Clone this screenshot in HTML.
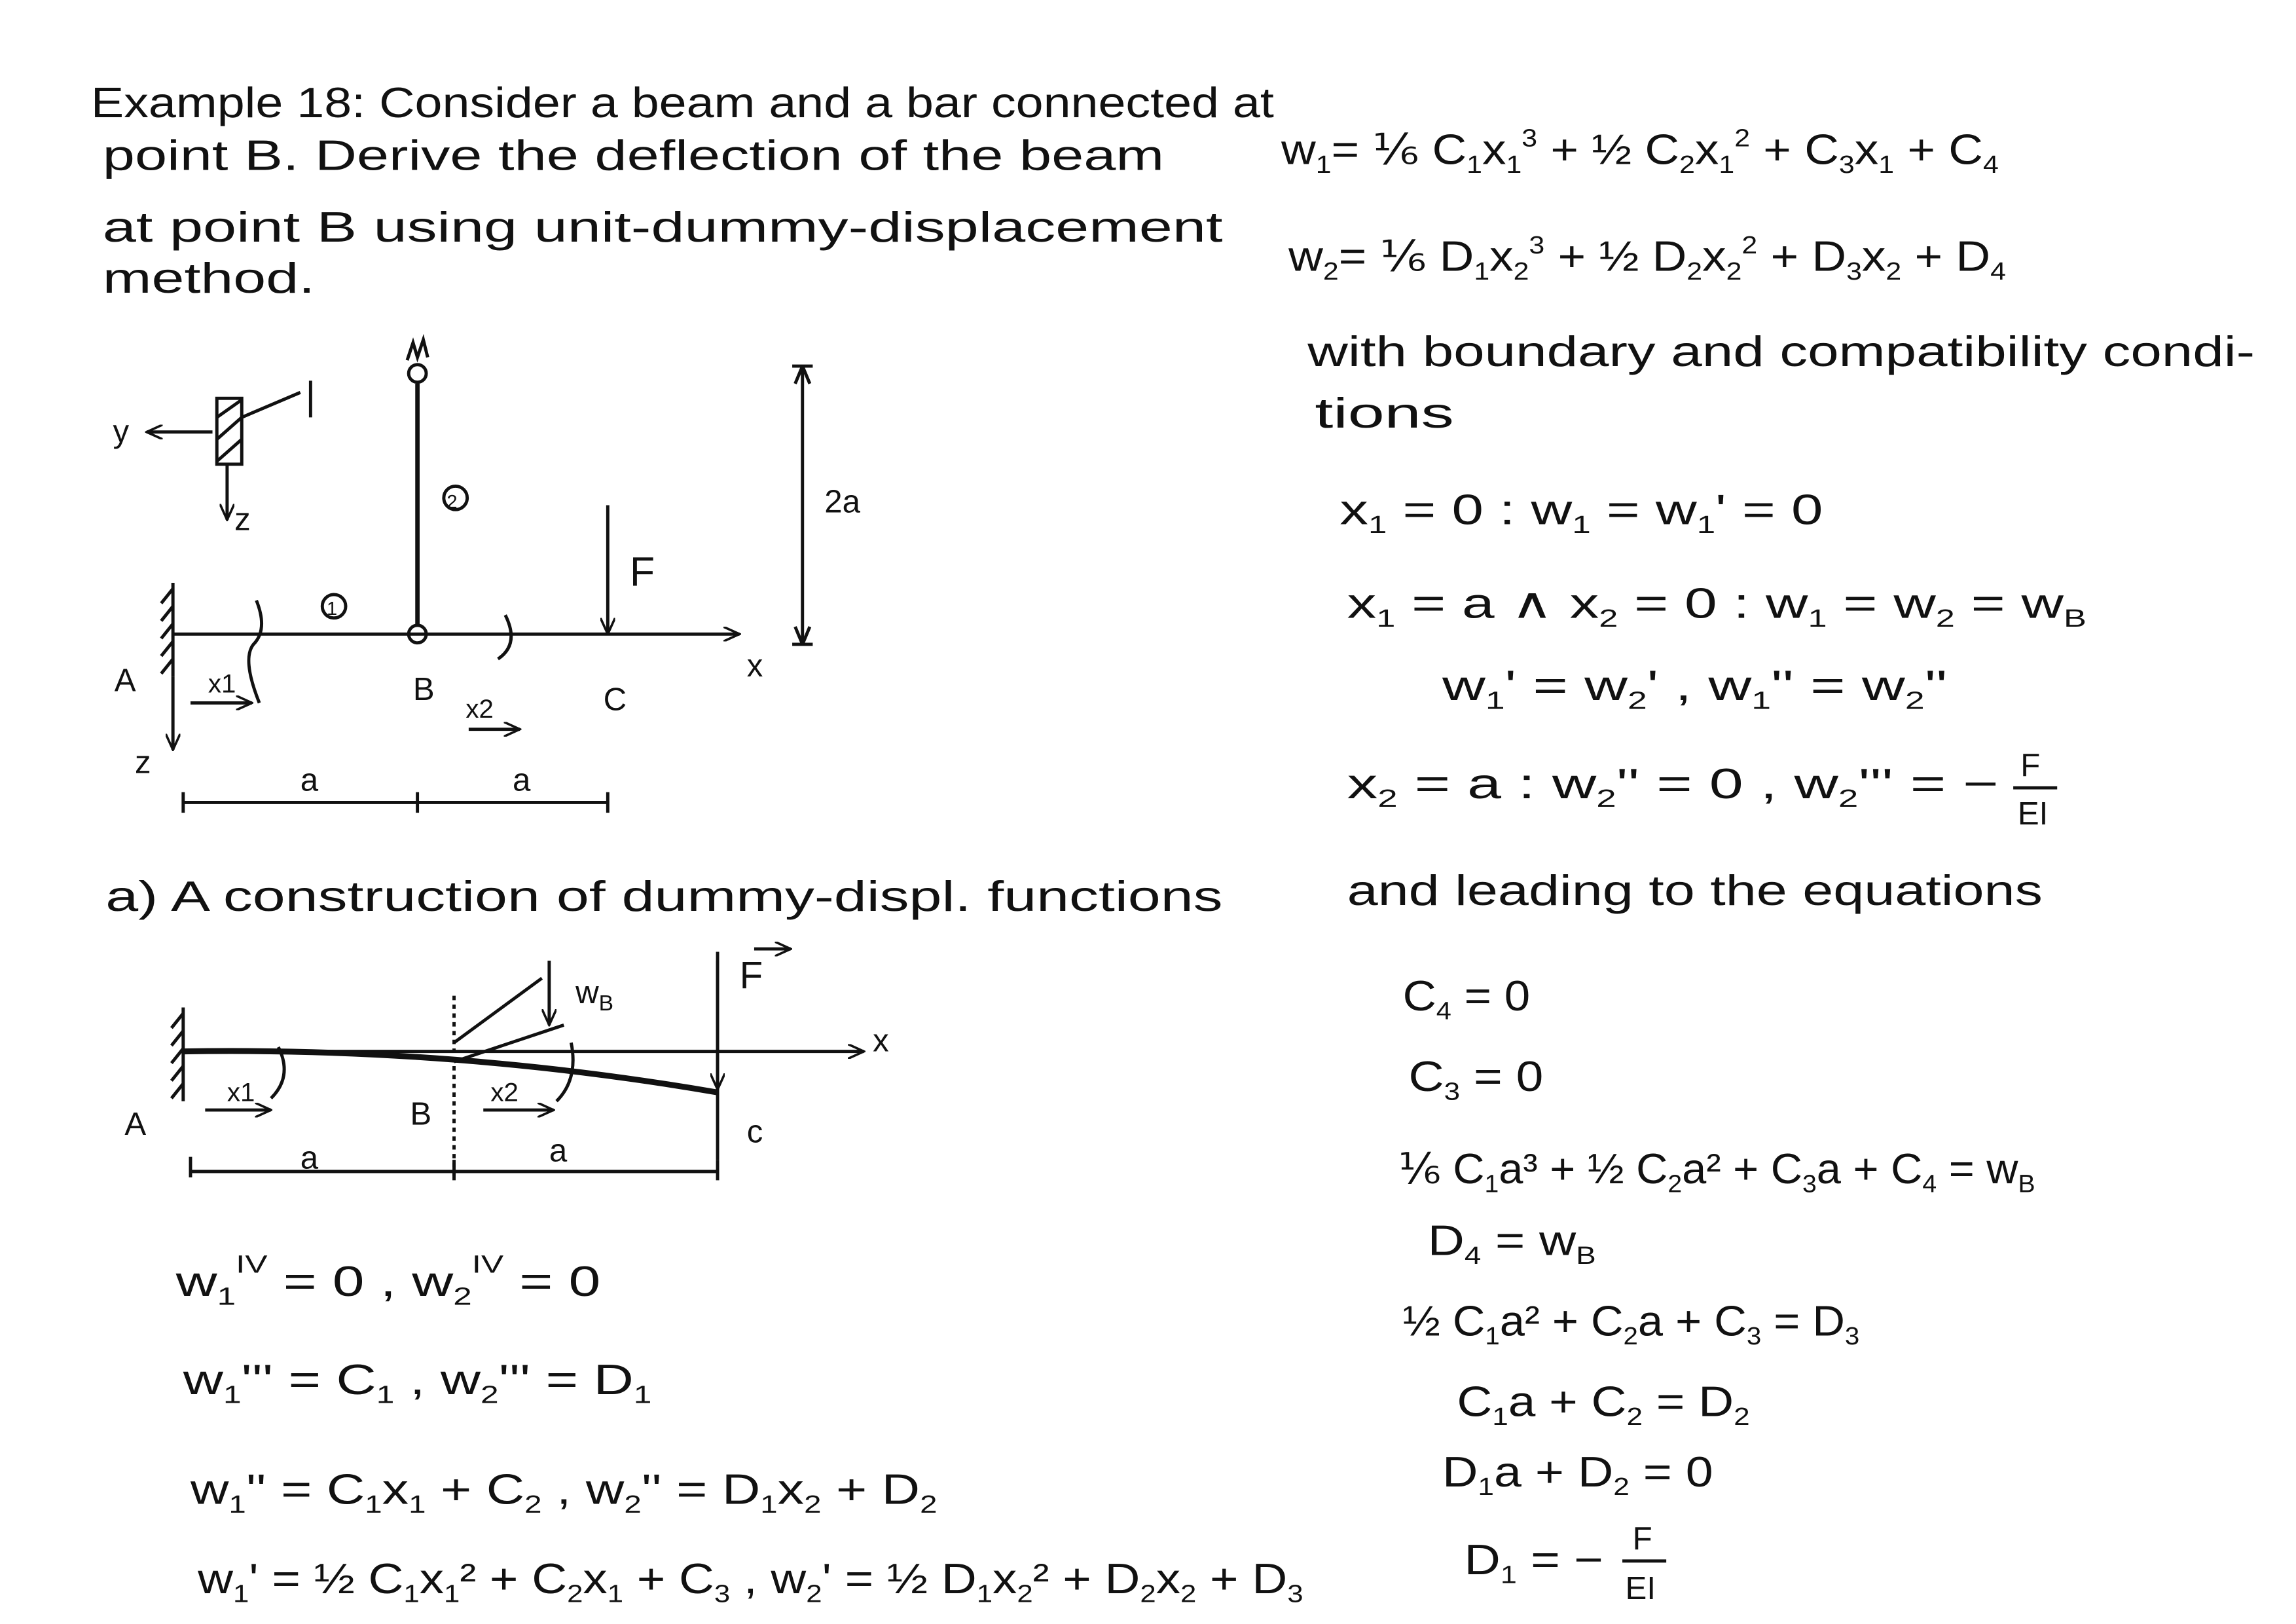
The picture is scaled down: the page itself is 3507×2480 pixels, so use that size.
<!DOCTYPE html>
<html><head><meta charset="utf-8">
<style>
html,body{margin:0;padding:0;background:#fff;}
svg{display:block;}
text{font-family:"Liberation Sans","DejaVu Sans",sans-serif;fill:#111;}
.s{stroke:#111;stroke-width:2.2;fill:none;}
</style></head><body>
<svg width="3507" height="2480" viewBox="0 0 1568 1109" xmlns="http://www.w3.org/2000/svg">
<defs>
<marker id="ar" markerWidth="12" markerHeight="10" refX="11" refY="5" orient="auto" markerUnits="userSpaceOnUse">
<path d="M0,0 L11,5 L0,10" fill="none" stroke="#111" stroke-width="1.6"/></marker>
</defs>
<g font-size="29">
<text x="62" y="80" textLength="808" lengthAdjust="spacingAndGlyphs">Example 18: Consider a beam and a bar connected at</text>
<text x="70" y="116" textLength="725" lengthAdjust="spacingAndGlyphs">point B. Derive the deflection of the beam</text>
<text x="70" y="165" textLength="765" lengthAdjust="spacingAndGlyphs">at point B using unit-dummy-displacement</text>
<text x="70" y="200" textLength="145" lengthAdjust="spacingAndGlyphs">method.</text>

<text x="875" y="112" textLength="490" lengthAdjust="spacingAndGlyphs">w<tspan font-size="17" dy="6">1</tspan><tspan dy="-6">= ⅙ C</tspan><tspan font-size="17" dy="6">1</tspan><tspan dy="-6">x</tspan><tspan font-size="17" dy="6">1</tspan><tspan font-size="17" dy="-18">3</tspan><tspan dy="12"> + ½ C</tspan><tspan font-size="17" dy="6">2</tspan><tspan dy="-6">x</tspan><tspan font-size="17" dy="6">1</tspan><tspan font-size="17" dy="-18">2</tspan><tspan dy="12"> + C</tspan><tspan font-size="17" dy="6">3</tspan><tspan dy="-6">x</tspan><tspan font-size="17" dy="6">1</tspan><tspan dy="-6"> + C</tspan><tspan font-size="17" dy="6">4</tspan></text>
<text x="880" y="185" textLength="490" lengthAdjust="spacingAndGlyphs">w<tspan font-size="17" dy="6">2</tspan><tspan dy="-6">= ⅙ D</tspan><tspan font-size="17" dy="6">1</tspan><tspan dy="-6">x</tspan><tspan font-size="17" dy="6">2</tspan><tspan font-size="17" dy="-18">3</tspan><tspan dy="12"> + ½ D</tspan><tspan font-size="17" dy="6">2</tspan><tspan dy="-6">x</tspan><tspan font-size="17" dy="6">2</tspan><tspan font-size="17" dy="-18">2</tspan><tspan dy="12"> + D</tspan><tspan font-size="17" dy="6">3</tspan><tspan dy="-6">x</tspan><tspan font-size="17" dy="6">2</tspan><tspan dy="-6"> + D</tspan><tspan font-size="17" dy="6">4</tspan></text>
<text x="893" y="250" textLength="647" lengthAdjust="spacingAndGlyphs">with boundary and compatibility condi-</text>
<text x="898" y="292" textLength="95" lengthAdjust="spacingAndGlyphs">tions</text>
<text x="915" y="358" textLength="330" lengthAdjust="spacingAndGlyphs">x<tspan font-size="17" dy="6">1</tspan><tspan dy="-6"> = 0 :   w</tspan><tspan font-size="17" dy="6">1</tspan><tspan dy="-6"> = w</tspan><tspan font-size="17" dy="6">1</tspan><tspan dy="-6">' = 0</tspan></text>
<text x="920" y="422" textLength="505" lengthAdjust="spacingAndGlyphs">x<tspan font-size="17" dy="6">1</tspan><tspan dy="-6"> = a ∧ x</tspan><tspan font-size="17" dy="6">2</tspan><tspan dy="-6"> = 0 :    w</tspan><tspan font-size="17" dy="6">1</tspan><tspan dy="-6"> = w</tspan><tspan font-size="17" dy="6">2</tspan><tspan dy="-6"> = w</tspan><tspan font-size="17" dy="6">B</tspan></text>
<text x="985" y="478" textLength="345" lengthAdjust="spacingAndGlyphs">w<tspan font-size="17" dy="6">1</tspan><tspan dy="-6">' = w</tspan><tspan font-size="17" dy="6">2</tspan><tspan dy="-6">' ,  w</tspan><tspan font-size="17" dy="6">1</tspan><tspan dy="-6">'' = w</tspan><tspan font-size="17" dy="6">2</tspan><tspan dy="-6">''</tspan></text>
<text x="920" y="545" textLength="445" lengthAdjust="spacingAndGlyphs">x<tspan font-size="17" dy="6">2</tspan><tspan dy="-6"> = a :  w</tspan><tspan font-size="17" dy="6">2</tspan><tspan dy="-6">'' = 0 ,  w</tspan><tspan font-size="17" dy="6">2</tspan><tspan dy="-6">''' = −</tspan></text>
<text x="1380" y="530" font-size="22">F</text><line x1="1375" y1="538" x2="1405" y2="538" class="s"/><text x="1378" y="563" font-size="22">EI</text>
<text x="920" y="618" textLength="475" lengthAdjust="spacingAndGlyphs">and leading to the equations</text>
<text x="958" y="690" textLength="87" lengthAdjust="spacingAndGlyphs">C<tspan font-size="17" dy="6">4</tspan><tspan dy="-6"> = 0</tspan></text>
<text x="962" y="745" textLength="92" lengthAdjust="spacingAndGlyphs">C<tspan font-size="17" dy="6">3</tspan><tspan dy="-6"> = 0</tspan></text>
<text x="955" y="808" textLength="435" lengthAdjust="spacingAndGlyphs">⅙ C<tspan font-size="17" dy="6">1</tspan><tspan dy="-6">a³ + ½ C</tspan><tspan font-size="17" dy="6">2</tspan><tspan dy="-6">a² + C</tspan><tspan font-size="17" dy="6">3</tspan><tspan dy="-6">a + C</tspan><tspan font-size="17" dy="6">4</tspan><tspan dy="-6"> = w</tspan><tspan font-size="17" dy="6">B</tspan></text>
<text x="975" y="857" textLength="115" lengthAdjust="spacingAndGlyphs">D<tspan font-size="17" dy="6">4</tspan><tspan dy="-6"> = w</tspan><tspan font-size="17" dy="6">B</tspan></text>
<text x="958" y="912" textLength="312" lengthAdjust="spacingAndGlyphs">½ C<tspan font-size="17" dy="6">1</tspan><tspan dy="-6">a² + C</tspan><tspan font-size="17" dy="6">2</tspan><tspan dy="-6">a + C</tspan><tspan font-size="17" dy="6">3</tspan><tspan dy="-6"> = D</tspan><tspan font-size="17" dy="6">3</tspan></text>
<text x="995" y="967" textLength="200" lengthAdjust="spacingAndGlyphs">C<tspan font-size="17" dy="6">1</tspan><tspan dy="-6">a + C</tspan><tspan font-size="17" dy="6">2</tspan><tspan dy="-6"> = D</tspan><tspan font-size="17" dy="6">2</tspan></text>
<text x="985" y="1015" textLength="185" lengthAdjust="spacingAndGlyphs">D<tspan font-size="17" dy="6">1</tspan><tspan dy="-6">a + D</tspan><tspan font-size="17" dy="6">2</tspan><tspan dy="-6"> = 0</tspan></text>
<text x="1000" y="1075" textLength="95" lengthAdjust="spacingAndGlyphs">D<tspan font-size="17" dy="6">1</tspan><tspan dy="-6"> = −</tspan></text>
<text x="1115" y="1058" font-size="22">F</text><line x1="1108" y1="1066" x2="1138" y2="1066" class="s"/><text x="1110" y="1092" font-size="22">EI</text>

<text x="72" y="622" textLength="763" lengthAdjust="spacingAndGlyphs">a) A construction of dummy-displ. functions</text>
<text x="120" y="885" textLength="290" lengthAdjust="spacingAndGlyphs">w<tspan font-size="17" dy="6">1</tspan><tspan font-size="17" dy="-22">IV</tspan><tspan dy="16"> = 0  ,  w</tspan><tspan font-size="17" dy="6">2</tspan><tspan font-size="17" dy="-22">IV</tspan><tspan dy="16"> = 0</tspan></text>
<text x="125" y="952" textLength="320" lengthAdjust="spacingAndGlyphs">w<tspan font-size="17" dy="6">1</tspan><tspan dy="-6">''' = C</tspan><tspan font-size="17" dy="6">1</tspan><tspan dy="-6">  ,  w</tspan><tspan font-size="17" dy="6">2</tspan><tspan dy="-6">''' = D</tspan><tspan font-size="17" dy="6">1</tspan></text>
<text x="130" y="1027" textLength="510" lengthAdjust="spacingAndGlyphs">w<tspan font-size="17" dy="6">1</tspan><tspan dy="-6">'' = C</tspan><tspan font-size="17" dy="6">1</tspan><tspan dy="-6">x</tspan><tspan font-size="17" dy="6">1</tspan><tspan dy="-6"> + C</tspan><tspan font-size="17" dy="6">2</tspan><tspan dy="-6">  ,  w</tspan><tspan font-size="17" dy="6">2</tspan><tspan dy="-6">'' = D</tspan><tspan font-size="17" dy="6">1</tspan><tspan dy="-6">x</tspan><tspan font-size="17" dy="6">2</tspan><tspan dy="-6"> + D</tspan><tspan font-size="17" dy="6">2</tspan></text>
<text x="135" y="1088" textLength="755" lengthAdjust="spacingAndGlyphs">w<tspan font-size="17" dy="6">1</tspan><tspan dy="-6">' = ½ C</tspan><tspan font-size="17" dy="6">1</tspan><tspan dy="-6">x</tspan><tspan font-size="17" dy="6">1</tspan><tspan dy="-6">² + C</tspan><tspan font-size="17" dy="6">2</tspan><tspan dy="-6">x</tspan><tspan font-size="17" dy="6">1</tspan><tspan dy="-6"> + C</tspan><tspan font-size="17" dy="6">3</tspan><tspan dy="-6"> ,  w</tspan><tspan font-size="17" dy="6">2</tspan><tspan dy="-6">' = ½ D</tspan><tspan font-size="17" dy="6">1</tspan><tspan dy="-6">x</tspan><tspan font-size="17" dy="6">2</tspan><tspan dy="-6">² + D</tspan><tspan font-size="17" dy="6">2</tspan><tspan dy="-6">x</tspan><tspan font-size="17" dy="6">2</tspan><tspan dy="-6"> + D</tspan><tspan font-size="17" dy="6">3</tspan></text>
</g>

<!-- Diagram 1 -->
<g class="s">
<line x1="118" y1="398" x2="118" y2="462"/>
<path d="M118,402 l-8,10 M118,414 l-8,10 M118,426 l-8,10 M118,438 l-8,10 M118,450 l-8,10"/>
<line x1="118" y1="433" x2="505" y2="433" marker-end="url(#ar)"/>
<line x1="285" y1="262" x2="285" y2="427" stroke-width="3"/>
<circle cx="285" cy="433" r="6"/><circle cx="285" cy="255" r="6"/>
<path d="M278,246 l4,-12 l3,10 l4,-12 l3,12"/>
<line x1="415" y1="345" x2="415" y2="433" marker-end="url(#ar)"/>
<line x1="548" y1="250" x2="548" y2="440"/>
<path d="M541,250 h14 M541,440 h14"/>
<path d="M548,250 l-5,12 M548,250 l5,12 M548,440 l-5,-12 M548,440 l5,-12"/>
<line x1="118" y1="462" x2="118" y2="512" marker-end="url(#ar)"/>
<line x1="125" y1="548" x2="415" y2="548"/>
<path d="M125,541 v14 M285,541 v14 M415,541 v14"/>
<line x1="130" y1="480" x2="172" y2="480" marker-end="url(#ar)"/>
<path d="M175,410 q8,20 -2,30 q-8,10 4,40"/>
<path d="M345,420 q10,20 -5,30"/>
<line x1="320" y1="498" x2="355" y2="498" marker-end="url(#ar)"/>
<circle cx="228" cy="414" r="8"/><circle cx="311" cy="340" r="8"/>
<line x1="145" y1="295" x2="100" y2="295" marker-end="url(#ar)"/>
<rect x="148" y="272" width="17" height="45"/>
<path d="M148,285 l17,-12 M148,300 l17,-15 M148,315 l17,-15"/>
<line x1="165" y1="285" x2="205" y2="268"/><line x1="212" y1="260" x2="212" y2="285"/>
<line x1="155" y1="317" x2="155" y2="355" marker-end="url(#ar)"/>
</g>
<g font-size="22">
<text x="77" y="302">y</text><text x="160" y="362">z</text>
<text x="305" y="347" font-size="13">2</text><text x="223" y="420" font-size="13">1</text>
<text x="430" y="400" font-size="28">F</text>
<text x="563" y="350">2a</text>
<text x="510" y="462">x</text>
<text x="78" y="472">A</text><text x="282" y="478">B</text><text x="412" y="485">C</text>
<text x="142" y="473" font-size="18">x1</text><text x="318" y="490" font-size="18">x2</text>
<text x="92" y="528">z</text>
<text x="205" y="540">a</text><text x="350" y="540">a</text>
</g>

<!-- Diagram 2 -->
<g class="s">
<line x1="125" y1="688" x2="125" y2="752"/>
<path d="M125,692 l-8,10 M125,704 l-8,10 M125,716 l-8,10 M125,728 l-8,10 M125,740 l-8,10"/>
<line x1="125" y1="718" x2="590" y2="718" marker-end="url(#ar)"/>
<path d="M125,718 Q310,715 490,746" stroke-width="4"/>
<line x1="310" y1="680" x2="310" y2="805" stroke-dasharray="3,3"/>
<line x1="490" y1="650" x2="490" y2="792"/>
<line x1="490" y1="656" x2="490" y2="744" marker-end="url(#ar)"/>
<line x1="375" y1="656" x2="375" y2="700" marker-end="url(#ar)"/>
<line x1="310" y1="712" x2="370" y2="668"/><line x1="310" y1="725" x2="385" y2="700"/>
<line x1="130" y1="800" x2="490" y2="800"/>
<path d="M130,790 v14 M310,792 v14 M490,792 v14"/>
<line x1="140" y1="758" x2="185" y2="758" marker-end="url(#ar)"/>
<line x1="330" y1="758" x2="378" y2="758" marker-end="url(#ar)"/>
<path d="M190,715 q10,20 -5,35"/>
<path d="M390,712 q5,25 -10,40"/>
<line x1="515" y1="648" x2="540" y2="648" marker-end="url(#ar)"/>
</g>
<g font-size="22">
<text x="505" y="675" font-size="26">F</text>
<text x="393" y="685">w<tspan font-size="15" dy="5">B</tspan></text>
<text x="596" y="718">x</text>
<text x="85" y="775">A</text><text x="280" y="768">B</text><text x="510" y="780">c</text>
<text x="155" y="752" font-size="18">x1</text><text x="335" y="752" font-size="18">x2</text>
<text x="205" y="798">a</text><text x="375" y="793">a</text>
</g>
</svg>
</body></html>
